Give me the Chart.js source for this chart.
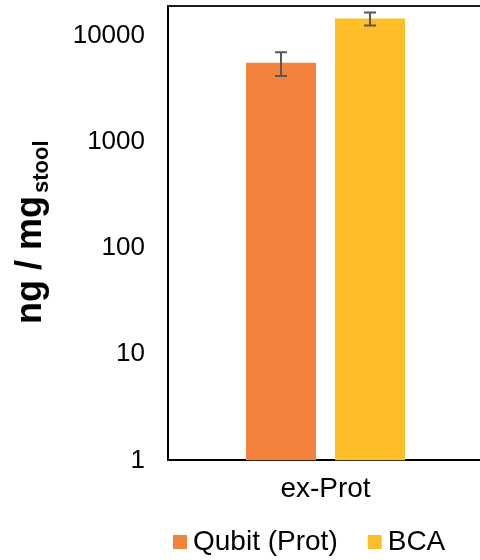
<!DOCTYPE html>
<html>
<head>
<meta charset="utf-8">
<script src="https://cdn.jsdelivr.net/npm/chart.js@4"></script>
<style>
  html, body { margin: 0; padding: 0; background: #fff; overflow: hidden; }
  #wrap { width: 490px; height: 560px; }
</style>
</head>
<body>
<div id="wrap"><canvas id="chart" width="490" height="560"></canvas></div>
<script>
const categories = ["ex-Prot"];
const seriesNames = ["Qubit (Prot)", "BCA"];
const qubitValues = [5560];
const bcaValues = [14460];
const qubitErrors = [1400];
const bcaErrors = [2000];
const yTicks = [1, 10, 100, 1000, 10000];

const FONT = '"Liberation Sans", Arial, Helvetica, sans-serif';
const errorsByDataset = [qubitErrors, bcaErrors];

// error bars drawn on top of the bars
const errorBars = {
    id: 'errorBars',
    afterDatasetsDraw(chart) {
        const ctx = chart.ctx;
        const yScale = chart.scales.y;
        ctx.save();
        ctx.strokeStyle = '#595959';
        ctx.lineWidth = 2;
        chart.data.datasets.forEach((ds, i) => {
            const meta = chart.getDatasetMeta(i);
            meta.data.forEach((bar, j) => {
                const v = ds.data[j];
                const e = errorsByDataset[i][j];
                const yTop = yScale.getPixelForValue(v + e);
                const yBot = yScale.getPixelForValue(v - e);
                ctx.beginPath();
                ctx.moveTo(bar.x, yTop);
                ctx.lineTo(bar.x, yBot);
                ctx.moveTo(bar.x - 6, yTop);
                ctx.lineTo(bar.x + 6, yTop);
                ctx.moveTo(bar.x - 6, yBot);
                ctx.lineTo(bar.x + 6, yBot);
                ctx.stroke();
            });
        });
        ctx.restore();
    }
};

// top frame line
const topLine = {
    id: 'topLine',
    afterDraw(chart) {
        const { ctx, chartArea } = chart;
        ctx.save();
        ctx.strokeStyle = '#1a1a1a';
        ctx.lineWidth = 2;
        ctx.beginPath();
        ctx.moveTo(chartArea.left - 1, chartArea.top);
        ctx.lineTo(chart.width, chartArea.top);
        ctx.stroke();
        ctx.restore();
    }
};

// y title with subscript
const yTitle = {
    id: 'yTitle',
    afterDraw(chart) {
        const ctx = chart.ctx;
        ctx.save();
        ctx.translate(41, 324);
        ctx.rotate(-Math.PI / 2);
        ctx.fillStyle = '#000';
        ctx.textAlign = 'left';
        ctx.textBaseline = 'alphabetic';
        ctx.font = 'bold 36px ' + FONT;
        const main = 'ng / mg';
        ctx.fillText(main, 0, 0);
        const w = ctx.measureText(main).width;
        ctx.font = 'bold 22px ' + FONT;
        ctx.fillText('stool', w + 3, 7);
        ctx.restore();
    }
};

// legend under the axis
const bottomLegend = {
    id: 'bottomLegend',
    afterDraw(chart) {
        const ctx = chart.ctx;
        ctx.save();
        ctx.font = '28px ' + FONT;
        ctx.textBaseline = 'middle';
        ctx.textAlign = 'left';
        let x = 173;
        const y = 542;
        chart.data.datasets.forEach(ds => {
            ctx.fillStyle = ds.backgroundColor;
            ctx.fillRect(x, y - 7, 14, 14);
            ctx.fillStyle = '#000';
            ctx.fillText(ds.label, x + 20, y);
            x += 20 + ctx.measureText(ds.label).width + 30;
        });
        ctx.restore();
    }
};

new Chart(document.getElementById('chart'), {
    type: 'bar',
    data: {
        labels: categories,
        datasets: [
            { label: seriesNames[0], data: qubitValues, backgroundColor: '#F2823C', borderWidth: 0 },
            { label: seriesNames[1], data: bcaValues, backgroundColor: '#FEBE28', borderWidth: 0 }
        ]
    },
    options: {
        responsive: false,
        animation: false,
        categoryPercentage: 0.565,
        barPercentage: 0.787,
        layout: { padding: { left: 0, right: 7, top: 6, bottom: 42 } },
        plugins: {
            legend: { display: false },
            tooltip: { enabled: false }
        },
        scales: {
            x: {
                grid: { display: false, drawTicks: false },
                border: { display: true, color: '#000', width: 2 },
                ticks: { color: '#000', padding: 12, font: { family: FONT, size: 28 } },
                afterFit: s => { s.paddingLeft = 0; s.paddingRight = 0; }
            },
            y: {
                type: 'logarithmic',
                min: 1,
                max: 19000,
                grid: { display: false, drawTicks: false },
                border: { display: true, color: '#000', width: 2 },
                afterBuildTicks: s => { s.ticks = yTicks.map(v => ({ value: v })); },
                ticks: {
                    color: '#000',
                    padding: 23,
                    font: { family: FONT, size: 26 },
                    callback: v => String(v)
                },
                afterFit: s => { s.width = 168; s.paddingTop = 0; s.paddingBottom = 0; }
            }
        }
    },
    plugins: [errorBars, topLine, yTitle, bottomLegend]
});
</script>
</body>
</html>
